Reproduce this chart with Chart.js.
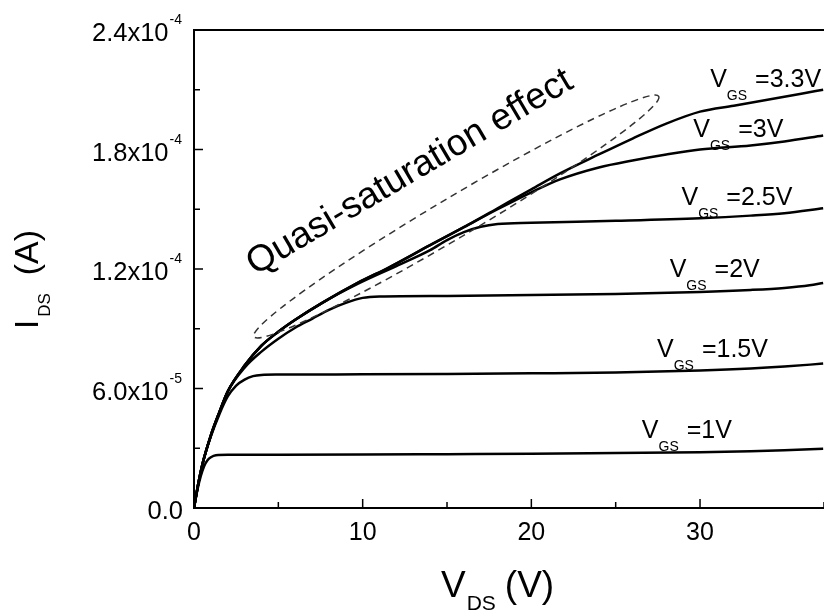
<!DOCTYPE html>
<html>
<head>
<meta charset="utf-8">
<script src="https://cdn.jsdelivr.net/npm/chart.js@4.4.1/dist/chart.umd.min.js"></script>
<style>
html,body{margin:0;padding:0;background:#fff;overflow:hidden;}
#wrap{width:824px;height:613px;}
</style>
</head>
<body>
<div id="wrap"><canvas id="c" width="824" height="613"></canvas></div>
<script>
// ---------------- data ----------------
const vds_1V  = [0, 0.2, 0.4, 0.6, 0.8, 1.0, 1.3, 2, 5, 10, 15, 20, 25, 30, 33, 35, 37.3];
const ids_1V  = [0, 0.9e-5, 1.6e-5, 2.1e-5, 2.4e-5, 2.55e-5, 2.65e-5, 2.67e-5, 2.67e-5, 2.68e-5, 2.7e-5, 2.72e-5, 2.76e-5, 2.8e-5, 2.85e-5, 2.9e-5, 2.97e-5];

const vds_15V = [0, 0.25, 0.5, 1, 1.5, 2, 2.5, 3, 3.5, 4, 5, 10, 15, 20, 25, 30, 33, 35, 37.3];
const ids_15V = [0, 1.2e-5, 2.2e-5, 3.6e-5, 4.7e-5, 5.6e-5, 6.15e-5, 6.45e-5, 6.62e-5, 6.68e-5, 6.7e-5, 6.71e-5, 6.73e-5, 6.76e-5, 6.8e-5, 6.9e-5, 7.0e-5, 7.1e-5, 7.25e-5];

const vds_2V  = [0, 0.25, 0.5, 1, 1.5, 2, 3, 4, 5, 6, 7, 8, 9, 10, 11, 15, 20, 25, 30, 33, 35, 36.5, 37.3];
const ids_2V  = [0, 1.2e-5, 2.2e-5, 3.65e-5, 4.8e-5, 5.85e-5, 7.05e-5, 7.85e-5, 8.5e-5, 9.05e-5, 9.5e-5, 9.95e-5, 10.3e-5, 10.55e-5, 10.62e-5, 10.65e-5, 10.69e-5, 10.75e-5, 10.85e-5, 10.95e-5, 11.05e-5, 11.18e-5, 11.3e-5];

const vds_25V = [0, 0.25, 0.5, 1, 1.5, 2, 3, 4, 5, 6, 7.6, 9.7, 12, 14, 15, 16, 17, 18, 20, 25, 30, 33, 35, 37.3];
const ids_25V = [0, 1.2e-5, 2.2e-5, 3.65e-5, 4.8e-5, 5.85e-5, 7.15e-5, 8.15e-5, 8.85e-5, 9.45e-5, 10.3e-5, 11.25e-5, 12.15e-5, 12.95e-5, 13.45e-5, 13.85e-5, 14.12e-5, 14.26e-5, 14.32e-5, 14.42e-5, 14.55e-5, 14.68e-5, 14.8e-5, 15.05e-5];

const vds_3V  = [0, 0.25, 0.5, 1, 1.5, 2, 3, 4, 5, 6, 7.6, 9.7, 11.6, 14, 16, 18, 20, 21.7, 24, 26, 28, 30, 33, 35, 37.3];
const ids_3V  = [0, 1.2e-5, 2.2e-5, 3.65e-5, 4.8e-5, 5.85e-5, 7.15e-5, 8.15e-5, 8.85e-5, 9.45e-5, 10.3e-5, 11.3e-5, 12.1e-5, 13.2e-5, 14.1e-5, 15.0e-5, 15.85e-5, 16.5e-5, 17.1e-5, 17.45e-5, 17.75e-5, 18.0e-5, 18.2e-5, 18.4e-5, 18.7e-5];

const vds_33V = [0, 0.25, 0.5, 1, 1.5, 2, 3, 4, 5, 6, 7.6, 9.7, 11.6, 14, 16, 18, 20, 21.7, 24, 26, 28, 30, 32, 34, 36, 37.3];
const ids_33V = [0, 1.2e-5, 2.2e-5, 3.65e-5, 4.8e-5, 5.85e-5, 7.15e-5, 8.15e-5, 8.85e-5, 9.45e-5, 10.3e-5, 11.3e-5, 12.1e-5, 13.2e-5, 14.1e-5, 15.05e-5, 16.0e-5, 16.8e-5, 17.75e-5, 18.55e-5, 19.3e-5, 19.9e-5, 20.2e-5, 20.5e-5, 20.8e-5, 21.0e-5];

const curveLabels  = ['=3.3V', '=3V', '=2.5V', '=2V', '=1.5V', '=1V'];
const curveLabelX  = [30.6, 29.6, 28.9, 28.2, 27.45, 26.55];
const curveLabelY  = [2.114e-4, 1.863e-4, 1.521e-4, 1.16e-4, 7.58e-5, 3.51e-5];

const xTickValues  = [0, 10, 20, 30];
const xTickLabels  = ['0', '10', '20', '30'];
const yTickValues  = [0, 6e-5, 1.2e-4, 1.8e-4, 2.4e-4];
const yTickMantissa = ['0.0', '6.0x10', '1.2x10', '1.8x10', '2.4x10'];
const yTickExponent = ['', '-5', '-4', '-4', '-4'];

const quasiText = 'Quasi-saturation effect';
const quasiAnchor = [13.1, 1.64e-4];
const ellipseEnds = [[3.55, 8.6e-5], [27.55, 2.067e-4]];

const X_MIN = 0, X_MAX = 37.35, Y_MIN = 0, Y_MAX = 2.4e-4;

// ---------------- chart ----------------
const FONT = '"Liberation Sans", Arial, Helvetica, sans-serif';
function pts(xs, ys){ return xs.map((v,i)=>({x:v, y:ys[i]})); }
function ds(xs, ys){
  return {data: pts(xs, ys), borderColor:'#000', borderWidth:2.5, pointRadius:0,
          fill:false, cubicInterpolationMode:'monotone', showLine:true};
}
function isMult(v, step){ const r = v/step; return Math.abs(r - Math.round(r)) < 1e-6; }

function runs(ctx, x, y, parts){
  let cx = x;
  parts.forEach(p=>{
    ctx.font = p.size + 'px ' + FONT;
    cx += (p.gap||0);
    ctx.fillText(p.t, cx, y + (p.dy||0));
    cx += ctx.measureText(p.t).width;
  });
  return cx;
}

const deco = {
  id:'deco',
  afterDraw(chart){
    const {ctx, chartArea:a, scales:{x, y}} = chart;
    ctx.save();
    ctx.strokeStyle = '#000'; ctx.fillStyle = '#000';
    // top frame line
    ctx.lineWidth = 2;
    ctx.beginPath(); ctx.moveTo(a.left, a.top); ctx.lineTo(a.right, a.top); ctx.stroke();
    // inward ticks
    ctx.lineWidth = 1.5;
    x.ticks.forEach(t=>{
      const px = x.getPixelForValue(t.value);
      const len = isMult(t.value, 10) ? 9 : 6;
      ctx.beginPath(); ctx.moveTo(px, a.bottom); ctx.lineTo(px, a.bottom - len); ctx.stroke();
    });
    y.ticks.forEach(t=>{
      const py = y.getPixelForValue(t.value);
      const len = isMult(t.value, 6e-5) ? 9 : 6;
      ctx.beginPath(); ctx.moveTo(a.left, py); ctx.lineTo(a.left + len, py); ctx.stroke();
    });
    // x tick labels
    ctx.textBaseline = 'alphabetic';
    ctx.textAlign = 'center';
    ctx.font = '25px ' + FONT;
    xTickValues.forEach((v,i)=>{
      ctx.fillText(xTickLabels[i], x.getPixelForValue(v), a.bottom + 32);
    });
    // y tick labels
    ctx.textAlign = 'left';
    yTickValues.forEach((v,i)=>{
      const py = y.getPixelForValue(v);
      ctx.font = '25.5px ' + FONT;
      const wm = ctx.measureText(yTickMantissa[i]).width;
      let we = 0;
      if (yTickExponent[i]) { ctx.font = '14px ' + FONT; we = ctx.measureText(yTickExponent[i]).width + 1; }
      const right = yTickExponent[i] ? a.left - 12 : a.left - 11;
      const sx = right - wm - we;
      runs(ctx, sx, py + 11, [{t:yTickMantissa[i], size:25.5}, {t:yTickExponent[i], size:14, dy:-17, gap:1}]);
    });
    // x axis title
    runs(ctx, a.left + 247, a.bottom + 89, [{t:'V', size:37}, {t:'DS', size:21, dy:13, gap:1}, {t:'(V)', size:37, gap:9}]);
    // y axis title
    ctx.save();
    ctx.translate(a.left - 156, a.top + 299);
    ctx.rotate(-Math.PI/2);
    runs(ctx, 0, 0, [{t:'I', size:33}, {t:'DS', size:17, dy:12, gap:3}, {t:'(A)', size:34, gap:18}]);
    ctx.restore();
    // curve labels
    curveLabels.forEach((s,i)=>{
      const px = x.getPixelForValue(curveLabelX[i]);
      const py = y.getPixelForValue(curveLabelY[i]);
      runs(ctx, px, py, [{t:'V', size:25}, {t:'GS', size:14, dy:13}, {t:s, size:25, gap:8}]);
    });
    // quasi-saturation text
    ctx.save();
    ctx.translate(x.getPixelForValue(quasiAnchor[0]), y.getPixelForValue(quasiAnchor[1]));
    ctx.rotate(-30.5 * Math.PI/180);
    ctx.textAlign = 'center';
    ctx.font = '37px ' + FONT;
    ctx.fillText(quasiText, 0, 0);
    ctx.restore();
    // dashed ellipse
    const x1 = x.getPixelForValue(ellipseEnds[0][0]), y1 = y.getPixelForValue(ellipseEnds[0][1]);
    const x2 = x.getPixelForValue(ellipseEnds[1][0]), y2 = y.getPixelForValue(ellipseEnds[1][1]);
    const cx = (x1+x2)/2, cy = (y1+y2)/2;
    const rx = Math.hypot(x2-x1, y2-y1)/2, ang = Math.atan2(y2-y1, x2-x1);
    ctx.strokeStyle = '#333'; ctx.lineWidth = 1.5;
    ctx.setLineDash([7,5]);
    ctx.beginPath(); ctx.ellipse(cx, cy, rx, 20, ang, 0, Math.PI*2); ctx.stroke();
    ctx.restore();
  }
};

new Chart(document.getElementById('c'), {
  type:'line',
  data:{ datasets:[ds(vds_1V, ids_1V), ds(vds_15V, ids_15V), ds(vds_2V, ids_2V), ds(vds_25V, ids_25V), ds(vds_3V, ids_3V), ds(vds_33V, ids_33V)] },
  options:{
    responsive:false, animation:false, devicePixelRatio:1,
    layout:{padding:{left:194, top:30, right:0, bottom:105}},
    plugins:{legend:{display:false}, tooltip:{enabled:false}},
    scales:{
      x:{type:'linear', min:X_MIN, max:X_MAX,
         ticks:{display:false, stepSize:5},
         grid:{display:true, drawOnChartArea:false, drawTicks:false},
         border:{display:true, color:'#000', width:2},
         afterFit(s){ s.height = 0; }},
      y:{type:'linear', min:Y_MIN, max:Y_MAX,
         ticks:{display:false, stepSize:3e-5},
         grid:{display:true, drawOnChartArea:false, drawTicks:false},
         border:{display:true, color:'#000', width:2},
         afterFit(s){ s.width = 0; }}
    }
  },
  plugins:[deco]
});
</script>
</body>
</html>
